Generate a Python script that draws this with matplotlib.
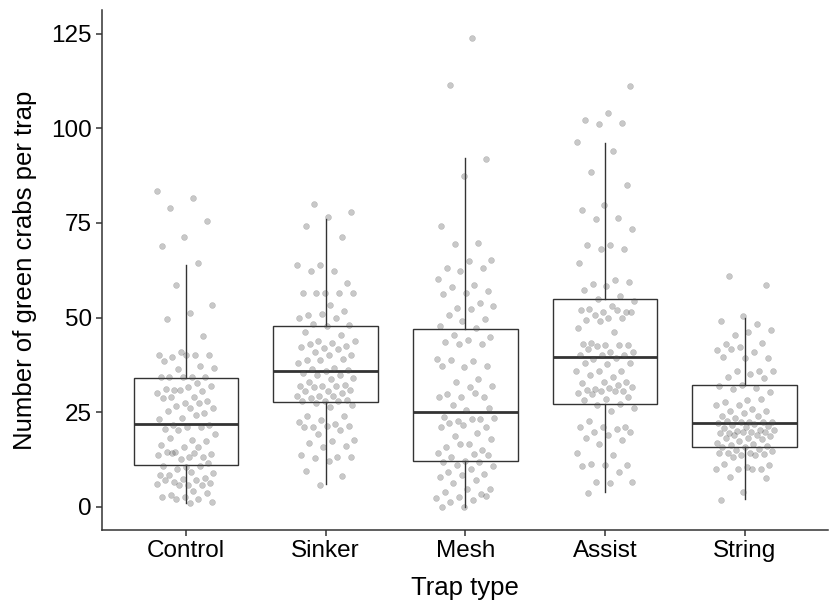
import numpy as np
import matplotlib
matplotlib.use('Agg')
import matplotlib.pyplot as plt

plt.rcParams['font.family'] = ['Liberation Sans', 'DejaVu Sans']

traps = ['Control', 'Sinker', 'Mesh', 'Assist', 'String']

# box summaries
q1 = [11.0, 27.6, 12.0, 27.2, 15.9]
med = [22.0, 36.0, 25.0, 39.6, 22.1]
q3 = [34.0, 47.7, 47.0, 54.9, 32.1]
whislo = [1.0, 6.0, 0.0, 4.0, 2.0]
whishi = [64.0, 76.0, 92.0, 96.0, 50.0]

# individual traps (crabs per trap), estimated from the points
control = [83.3, 81.7, 78.9, 75.4, 71.2, 68.9, 64.5, 58.5, 53.3, 51.1, 49.5, 45.0,
           41.0, 40.2, 40.0, 39.7, 40.0, 40.0, 38.4, 37.3, 36.5, 36.8,
           34.4, 34.4, 34.4, 34.4, 34.4, 32.7, 30.9, 31.8, 31.6, 31.2,
           30.7, 30.9, 30.0, 29.1, 29.0, 28.0, 27.4, 28.7, 27.4,
           26.7, 26.2, 26.0, 25.4, 24.9, 23.4, 23.2, 24.3,
           21.7, 21.7, 21.2, 20.6, 21.1, 20.2, 19.2, 17.7, 18.3, 17.3,
           15.9, 16.4, 15.8, 14.6, 14.0, 13.1, 14.6, 13.3, 12.6, 13.7, 14.2, 14.2,
           11.5, 10.4, 10.9, 10.7, 10.0, 8.9, 9.3, 8.3, 7.7, 7.4, 8.3, 7.0, 6.7,
           6.3, 5.8, 7.1, 5.8, 5.8, 6.0, 4.3, 3.2, 3.6, 2.7, 2.5, 2.2, 2.0, 1.2, 1.0]
sinker = [80.1, 77.9, 76.5, 74.1, 71.4, 63.8, 63.8, 62.4, 62.3, 59.1,
          56.4, 56.4, 56.4, 56.4, 56.4, 53.4, 50.7, 51.8, 51.0, 50.0, 49.9,
          48.3, 48.1, 47.8, 46.3, 45.3, 43.7, 43.7, 43.3, 43.1, 42.4, 41.9, 42.1, 41.7,
          41.0, 40.2, 40.0, 38.7, 39.1, 38.8, 38.0, 36.8, 36.5, 36.2, 35.8, 35.3,
          34.9, 34.9, 34.0, 33.8, 33.1, 32.2, 31.8, 31.8, 32.0, 31.6, 30.9, 30.5, 30.5, 30.2,
          29.3, 29.3, 29.3, 28.7, 28.1, 28.0, 28.0, 28.0, 27.4, 26.8, 26.3,
          24.1, 24.1, 23.0, 22.3, 21.9, 21.1, 21.4, 21.4, 21.0, 20.2,
          19.2, 17.7, 17.3, 16.8, 16.1, 15.7, 13.7, 13.1, 13.0, 13.3, 12.2, 9.5, 8.2, 5.9]
mesh = [123.9, 111.4, 91.9, 87.5, 74.1, 69.8, 69.4, 65.3, 65.0, 63.2, 63.1, 62.4,
        60.3, 58.5, 58.1, 57.1, 56.6, 56.3, 53.9, 52.5, 53.0, 52.2, 50.7, 49.6,
        49.0, 47.7, 47.2, 45.3, 44.8, 44.0, 43.5, 43.0, 43.1,
        39.1, 38.4, 38.8, 37.3, 36.9, 37.1, 33.8, 32.9, 31.8, 31.6, 29.9,
        29.1, 29.0, 28.9, 30.0, 26.8, 26.2, 25.6,
        23.7, 23.2, 22.7, 23.4, 23.2, 22.1, 21.0, 21.7, 21.1,
        19.6, 18.8, 17.9, 16.6, 15.9, 14.9, 16.6, 14.2, 13.9, 13.3, 13.7, 12.0, 11.8, 11.8,
        11.1, 10.8, 10.0, 9.3, 8.7, 8.5, 7.8, 7.1, 6.3, 4.8, 4.8, 3.8, 3.4, 2.7, 2.3,
        1.9, 1.4, 3.0, 0.1, 0.1]
assist = [111.1, 104.0, 102.1, 101.4, 101.2, 96.3, 93.9, 88.4, 84.9, 79.8, 78.3,
          76.3, 76.0, 73.4, 69.2, 69.2, 68.2, 68.2, 64.4, 59.8, 58.9, 59.4, 58.2, 57.2,
          55.6, 55.0, 54.4, 53.1, 52.3,
          51.4, 51.4, 52.1, 52.1, 50.7, 51.4, 49.9, 49.4, 49.9, 49.2, 47.2, 46.2,
          43.3, 42.8, 42.8, 43.1, 42.8, 42.4, 41.0, 41.0, 41.7,
          40.2, 40.2, 40.0, 39.3, 39.0, 38.1, 37.7, 38.0,
          36.0, 35.8, 36.0, 34.2, 34.9, 32.9, 33.1, 32.7, 32.2, 31.2,
          31.6, 31.3, 30.9, 30.7, 30.7, 30.2, 30.5, 29.8, 29.1, 28.5, 28.3, 27.2, 26.9,
          26.1, 25.2, 22.7, 21.0, 21.0, 21.2, 20.6, 19.9, 19.8, 18.9, 18.3, 17.7,
          16.6, 14.2, 13.6, 11.3, 11.1, 11.1, 10.8, 9.1, 6.7, 6.7, 6.3, 3.6]
string = [60.9, 58.5, 50.3, 49.2, 48.4, 45.5, 46.8, 46.1, 43.1, 43.3, 42.2, 41.3, 40.9,
          41.8, 39.3, 39.3, 39.7, 35.8, 35.8, 35.9, 35.1, 34.2, 34.0,
          32.2, 32.0, 31.4, 31.1, 30.3, 28.3, 27.8, 28.5, 26.8, 26.9, 25.8,
          25.4, 25.2, 24.9, 24.0, 23.9, 23.4,
          22.5, 22.5, 22.8, 22.5, 22.5, 22.1, 21.9, 21.7, 21.4,
          21.1, 20.8, 20.3, 20.1, 20.3, 19.9, 19.6, 19.9, 19.9, 19.5, 19.0, 19.0, 18.8,
          18.2, 18.2, 18.0, 17.4, 16.8, 16.6, 16.4, 16.1, 15.9, 15.8, 15.3, 14.9, 14.8,
          14.2, 14.2, 14.0, 13.7, 14.3, 13.7, 13.1,
          11.1, 10.5, 11.4, 10.0, 10.0, 10.0, 10.0, 7.8, 7.6, 3.8, 1.7]

counts = [control, sinker, mesh, assist, string]

fig = plt.figure(figsize=(8.3, 6.05), dpi=100)
ax = fig.add_axes([0.123, 0.124, 0.875, 0.86])

# jittered points (deterministic spread)
for i, vals in enumerate(counts):
    n = len(vals)
    offs = ((np.arange(n) * 0.618034 + 0.31 * i) % 1.0 - 0.5) * 0.42
    ax.scatter(i + 1 + offs, vals, s=18, color='#555555', alpha=0.32,
               edgecolors='#333333', linewidths=0.3, zorder=3)

stats = []
for i in range(len(traps)):
    stats.append({'med': med[i], 'q1': q1[i], 'q3': q3[i],
                  'whislo': whislo[i], 'whishi': whishi[i], 'fliers': []})

ax.bxp(stats, positions=range(1, 6), widths=0.75, showcaps=False,
       showfliers=False, patch_artist=True,
       boxprops=dict(facecolor='none', edgecolor='#333333', linewidth=1.0),
       whiskerprops=dict(color='#333333', linewidth=1.0),
       medianprops=dict(color='#333333', linewidth=2.0), zorder=2)

ax.set_xlim(0.4, 5.6)
ax.set_ylim(-6.1, 131.3)
ax.set_yticks([0, 25, 50, 75, 100, 125])
ax.set_xticks(range(1, 6))
ax.set_xticklabels(traps)

for side in ['top', 'right']:
    ax.spines[side].set_visible(False)
for side in ['left', 'bottom']:
    ax.spines[side].set_color('#333333')
    ax.spines[side].set_linewidth(1.1)

ax.tick_params(axis='both', labelsize=17.5, colors='#333333', length=4,
               width=1.1, labelcolor='black')
ax.set_xlabel('Trap type', fontsize=18.5, labelpad=10)
ax.set_ylabel('Number of green crabs per trap', fontsize=18.5, labelpad=10)

fig.savefig('out.png', dpi=100)
